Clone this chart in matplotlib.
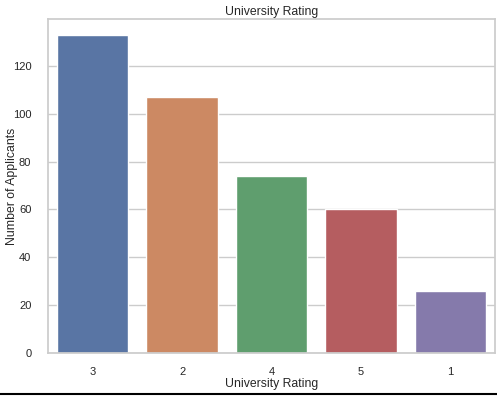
import matplotlib
matplotlib.use("Agg")
import matplotlib.pyplot as plt
import seaborn as sns
from matplotlib.lines import Line2D

ratings = ["3", "2", "4", "5", "1"]
counts = [133, 107, 74, 60, 26]

sns.set_theme(style="whitegrid")
plt.rcParams['font.family'] = ['Arial', 'Liberation Sans', 'DejaVu Sans']

fig = plt.figure(figsize=(4.97, 3.96), dpi=100)
ax = fig.add_axes([48 / 497, 1 - 353 / 396, (495 - 48) / 497, (353 - 19) / 396])

sns.barplot(x=ratings, y=counts, hue=ratings, palette=sns.color_palette("deep", 5),
            legend=False, ax=ax, saturation=0.75)
ax.set_ylim(0, 139.65)
ax.set_title("University Rating", fontsize=8.8, pad=3)
ax.set_xlabel("University Rating", fontsize=8.8, labelpad=1)
ax.set_ylabel("Number of Applicants", fontsize=8.8)
ax.yaxis.set_label_coords(-0.068, 0.5)
ax.tick_params(axis="y", labelsize=8, pad=6)
ax.tick_params(axis="x", labelsize=8, pad=4)

fig.add_artist(Line2D([0, 1], [0.004, 0.004], color="black", lw=1.5,
                      transform=fig.transFigure))

fig.savefig("out.png", dpi=100)
